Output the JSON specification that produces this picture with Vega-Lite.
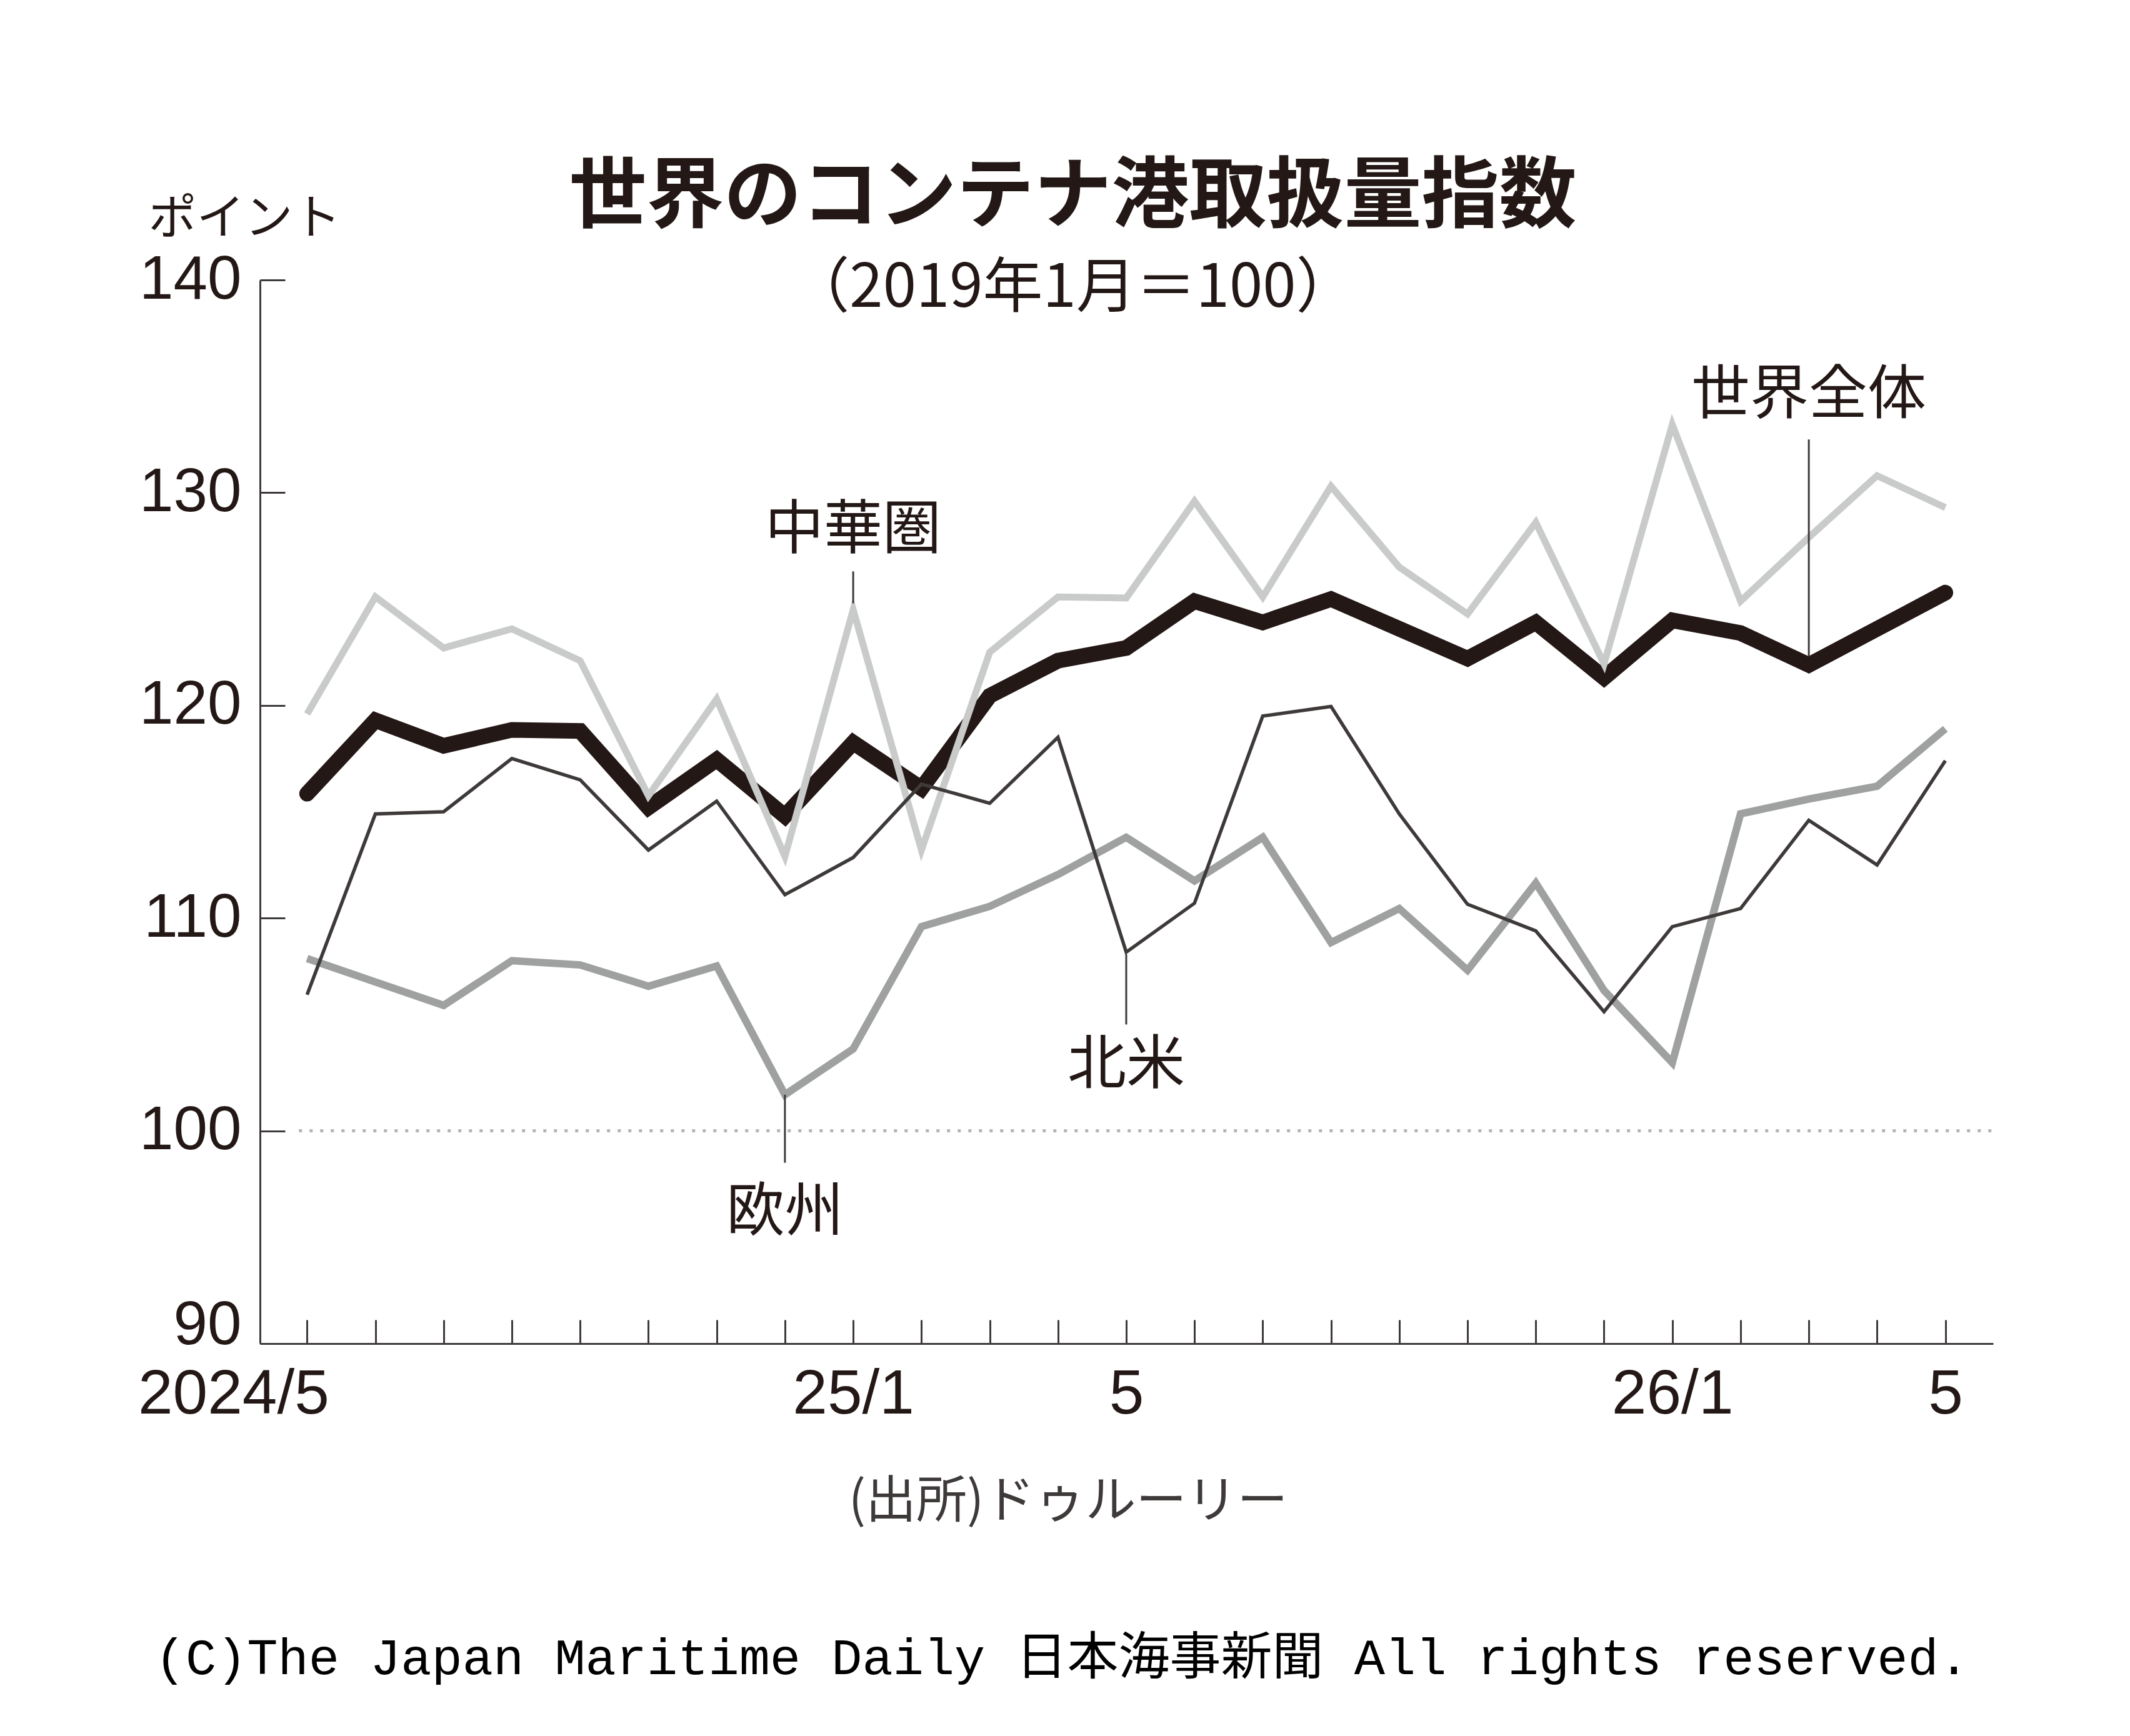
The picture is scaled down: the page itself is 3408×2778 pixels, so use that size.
{
  "$schema": "https://vega.github.io/schema/vega-lite/v6.json",
  "width": 2773,
  "height": 1702,
  "autosize": {"type": "none"},
  "padding": {"left": 416, "top": 448, "right": 219, "bottom": 628},
  "background": "white",
  "title": {
    "text": "世界のコンテナ港取扱量指数",
    "subtitle": "（2019年1月＝100）",
    "font": "Noto Sans CJK JP",
    "fontSize": 124,
    "fontWeight": "bold",
    "color": "#231815",
    "subtitleFont": "Noto Sans CJK JP",
    "subtitleFontSize": 96,
    "subtitleColor": "#231815",
    "subtitlePadding": 35,
    "anchor": "middle",
    "frame": "group",
    "dx": -86,
    "offset": -199
  },
  "config": {"view": {"stroke": null}, "axis": {"grid": false}},
  "datasets": {
    "series": [
      {"month": "2024-05", "idx": 0, "region": "世界全体", "value": 115.85},
      {"month": "2024-06", "idx": 1, "region": "世界全体", "value": 119.3},
      {"month": "2024-07", "idx": 2, "region": "世界全体", "value": 118.1},
      {"month": "2024-08", "idx": 3, "region": "世界全体", "value": 118.85},
      {"month": "2024-09", "idx": 4, "region": "世界全体", "value": 118.8},
      {"month": "2024-10", "idx": 5, "region": "世界全体", "value": 115.2},
      {"month": "2024-11", "idx": 6, "region": "世界全体", "value": 117.45},
      {"month": "2024-12", "idx": 7, "region": "世界全体", "value": 114.8},
      {"month": "2025-01", "idx": 8, "region": "世界全体", "value": 118.25},
      {"month": "2025-02", "idx": 9, "region": "世界全体", "value": 116.1},
      {"month": "2025-03", "idx": 10, "region": "世界全体", "value": 120.45},
      {"month": "2025-04", "idx": 11, "region": "世界全体", "value": 122.1},
      {"month": "2025-05", "idx": 12, "region": "世界全体", "value": 122.7},
      {"month": "2025-06", "idx": 13, "region": "世界全体", "value": 124.9},
      {"month": "2025-07", "idx": 14, "region": "世界全体", "value": 123.9},
      {"month": "2025-08", "idx": 15, "region": "世界全体", "value": 125.0},
      {"month": "2025-09", "idx": 16, "region": "世界全体", "value": 123.6},
      {"month": "2025-10", "idx": 17, "region": "世界全体", "value": 122.2},
      {"month": "2025-11", "idx": 18, "region": "世界全体", "value": 123.9},
      {"month": "2025-12", "idx": 19, "region": "世界全体", "value": 121.3},
      {"month": "2026-01", "idx": 20, "region": "世界全体", "value": 124.0},
      {"month": "2026-02", "idx": 21, "region": "世界全体", "value": 123.4},
      {"month": "2026-03", "idx": 22, "region": "世界全体", "value": 121.9},
      {"month": "2026-04", "idx": 23, "region": "世界全体", "value": 123.6},
      {"month": "2026-05", "idx": 24, "region": "世界全体", "value": 125.3},
      {"month": "2024-05", "idx": 0, "region": "中華圏", "value": 119.6},
      {"month": "2024-06", "idx": 1, "region": "中華圏", "value": 125.1},
      {"month": "2024-07", "idx": 2, "region": "中華圏", "value": 122.7},
      {"month": "2024-08", "idx": 3, "region": "中華圏", "value": 123.6},
      {"month": "2024-09", "idx": 4, "region": "中華圏", "value": 122.1},
      {"month": "2024-10", "idx": 5, "region": "中華圏", "value": 115.75},
      {"month": "2024-11", "idx": 6, "region": "中華圏", "value": 120.3},
      {"month": "2024-12", "idx": 7, "region": "中華圏", "value": 112.9},
      {"month": "2025-01", "idx": 8, "region": "中華圏", "value": 124.5},
      {"month": "2025-02", "idx": 9, "region": "中華圏", "value": 113.2},
      {"month": "2025-03", "idx": 10, "region": "中華圏", "value": 122.5},
      {"month": "2025-04", "idx": 11, "region": "中華圏", "value": 125.1},
      {"month": "2025-05", "idx": 12, "region": "中華圏", "value": 125.05},
      {"month": "2025-06", "idx": 13, "region": "中華圏", "value": 129.6},
      {"month": "2025-07", "idx": 14, "region": "中華圏", "value": 125.1},
      {"month": "2025-08", "idx": 15, "region": "中華圏", "value": 130.3},
      {"month": "2025-09", "idx": 16, "region": "中華圏", "value": 126.5},
      {"month": "2025-10", "idx": 17, "region": "中華圏", "value": 124.3},
      {"month": "2025-11", "idx": 18, "region": "中華圏", "value": 128.6},
      {"month": "2025-12", "idx": 19, "region": "中華圏", "value": 121.95},
      {"month": "2026-01", "idx": 20, "region": "中華圏", "value": 133.2},
      {"month": "2026-02", "idx": 21, "region": "中華圏", "value": 124.9},
      {"month": "2026-03", "idx": 22, "region": "中華圏", "value": 127.9},
      {"month": "2026-04", "idx": 23, "region": "中華圏", "value": 130.8},
      {"month": "2026-05", "idx": 24, "region": "中華圏", "value": 129.3},
      {"month": "2024-05", "idx": 0, "region": "欧州", "value": 108.1},
      {"month": "2024-06", "idx": 1, "region": "欧州", "value": 107.0},
      {"month": "2024-07", "idx": 2, "region": "欧州", "value": 105.9},
      {"month": "2024-08", "idx": 3, "region": "欧州", "value": 108.0},
      {"month": "2024-09", "idx": 4, "region": "欧州", "value": 107.8},
      {"month": "2024-10", "idx": 5, "region": "欧州", "value": 106.8},
      {"month": "2024-11", "idx": 6, "region": "欧州", "value": 107.75},
      {"month": "2024-12", "idx": 7, "region": "欧州", "value": 101.7},
      {"month": "2025-01", "idx": 8, "region": "欧州", "value": 103.85},
      {"month": "2025-02", "idx": 9, "region": "欧州", "value": 109.6},
      {"month": "2025-03", "idx": 10, "region": "欧州", "value": 110.55},
      {"month": "2025-04", "idx": 11, "region": "欧州", "value": 112.05},
      {"month": "2025-05", "idx": 12, "region": "欧州", "value": 113.8},
      {"month": "2025-06", "idx": 13, "region": "欧州", "value": 111.75},
      {"month": "2025-07", "idx": 14, "region": "欧州", "value": 113.8},
      {"month": "2025-08", "idx": 15, "region": "欧州", "value": 108.85},
      {"month": "2025-09", "idx": 16, "region": "欧州", "value": 110.45},
      {"month": "2025-10", "idx": 17, "region": "欧州", "value": 107.55},
      {"month": "2025-11", "idx": 18, "region": "欧州", "value": 111.65},
      {"month": "2025-12", "idx": 19, "region": "欧州", "value": 106.6},
      {"month": "2026-01", "idx": 20, "region": "欧州", "value": 103.2},
      {"month": "2026-02", "idx": 21, "region": "欧州", "value": 114.9},
      {"month": "2026-03", "idx": 22, "region": "欧州", "value": 115.6},
      {"month": "2026-04", "idx": 23, "region": "欧州", "value": 116.2},
      {"month": "2026-05", "idx": 24, "region": "欧州", "value": 118.9},
      {"month": "2024-05", "idx": 0, "region": "北米", "value": 106.4},
      {"month": "2024-06", "idx": 1, "region": "北米", "value": 114.9},
      {"month": "2024-07", "idx": 2, "region": "北米", "value": 115.0},
      {"month": "2024-08", "idx": 3, "region": "北米", "value": 117.5},
      {"month": "2024-09", "idx": 4, "region": "北米", "value": 116.5},
      {"month": "2024-10", "idx": 5, "region": "北米", "value": 113.2},
      {"month": "2024-11", "idx": 6, "region": "北米", "value": 115.5},
      {"month": "2024-12", "idx": 7, "region": "北米", "value": 111.1},
      {"month": "2025-01", "idx": 8, "region": "北米", "value": 112.85},
      {"month": "2025-02", "idx": 9, "region": "北米", "value": 116.3},
      {"month": "2025-03", "idx": 10, "region": "北米", "value": 115.4},
      {"month": "2025-04", "idx": 11, "region": "北米", "value": 118.5},
      {"month": "2025-05", "idx": 12, "region": "北米", "value": 108.4},
      {"month": "2025-06", "idx": 13, "region": "北米", "value": 110.7},
      {"month": "2025-07", "idx": 14, "region": "北米", "value": 119.5},
      {"month": "2025-08", "idx": 15, "region": "北米", "value": 119.95},
      {"month": "2025-09", "idx": 16, "region": "北米", "value": 114.9},
      {"month": "2025-10", "idx": 17, "region": "北米", "value": 110.65},
      {"month": "2025-11", "idx": 18, "region": "北米", "value": 109.4},
      {"month": "2025-12", "idx": 19, "region": "北米", "value": 105.6},
      {"month": "2026-01", "idx": 20, "region": "北米", "value": 109.6},
      {"month": "2026-02", "idx": 21, "region": "北米", "value": 110.45},
      {"month": "2026-03", "idx": 22, "region": "北米", "value": 114.6},
      {"month": "2026-04", "idx": 23, "region": "北米", "value": 112.5},
      {"month": "2026-05", "idx": 24, "region": "北米", "value": 117.4}
    ],
    "notes": [
      {"label": "中華圏", "idx": 8, "lineFrom": 124.8, "lineTo": 126.3, "labelAt": 128.2},
      {"label": "北米", "idx": 12, "lineFrom": 105.0, "lineTo": 108.3, "labelAt": 103.05},
      {"label": "欧州", "idx": 7, "lineFrom": 98.5, "lineTo": 101.7, "labelAt": 96.1},
      {"label": "世界全体", "idx": 22, "lineFrom": 122.3, "lineTo": 132.5, "labelAt": 134.55}
    ],
    "credits": [
      {"text": "(出所)ドゥルーリー", "kind": "source", "idx": 11.15, "at": 82.55},
      {"text": "(C)The Japan Maritime Daily 日本海事新聞 All rights reserved.", "kind": "copyright", "idx": 11.06, "at": 75.2}
    ]
  },
  "layer": [
    {
      "data": {"values": [{"level": 100}]},
      "mark": {"type": "rule", "color": "#b5b5b6", "strokeWidth": 5, "strokeDash": [5, 12]},
      "encoding": {
        "y": {"field": "level", "type": "quantitative", "scale": {"domain": [90, 140], "nice": false, "zero": false},
          "axis": {
            "values": [90, 100, 110, 120, 130, 140],
            "tickSize": -40, "tickWidth": 3, "tickColor": "#3e3a39",
            "domainColor": "#3e3a39", "domainWidth": 3,
            "labelFont": "Liberation Sans", "labelFontSize": 98, "labelColor": "#231815",
            "labelPadding": 70, "labelLimit": 0,
            "labelBaseline": {"condition": {"test": "datum.value == 90", "value": "alphabetic"}, "value": "middle"},
            "title": "ポイント", "titleAngle": 0, "titleX": -179, "titleY": -97,
            "titleAlign": "left", "titleBaseline": "middle",
            "titleFont": "Noto Sans CJK JP", "titleFontSize": 77, "titleFontWeight": "normal", "titleColor": "#231815"
          }
        },
        "x": {"datum": -0.12, "type": "quantitative", "scale": {"domain": [-0.69, 24.7], "nice": false, "zero": false},
          "axis": {
            "title": null,
            "values": [0, 1, 2, 3, 4, 5, 6, 7, 8, 9, 10, 11, 12, 13, 14, 15, 16, 17, 18, 19, 20, 21, 22, 23, 24],
            "labelExpr": "datum.value == 0 ? '2024/5' : datum.value == 8 ? '25/1' : datum.value == 12 ? '5' : datum.value == 20 ? '26/1' : datum.value == 24 ? '5' : ''",
            "tickSize": -38, "tickWidth": 3, "tickColor": "#3e3a39",
            "domainColor": "#3e3a39", "domainWidth": 3,
            "labelFont": "Liberation Sans", "labelFontSize": 100, "labelColor": "#231815",
            "labelPadding": 70, "labelFlush": false, "labelOverlap": false, "labelBaseline": "top", "labelLimit": 0,
            "labelAlign": {"condition": {"test": "datum.value == 0", "value": "right"}, "value": "center"},
            "labelOffset": {"condition": {"test": "datum.value == 0", "value": 35}, "value": 0}
          }
        },
        "x2": {"datum": 24.69}
      }
    },
    {
      "data": {"name": "series"},
      "transform": [{"filter": "datum.region == '世界全体'"}],
      "mark": {"type": "line", "color": "#231815", "strokeWidth": 25, "strokeCap": "round", "strokeJoin": "miter"},
      "encoding": {
        "x": {"field": "idx", "type": "quantitative", "title": null},
        "y": {"field": "value", "type": "quantitative"}
      }
    },
    {
      "data": {"name": "series"},
      "transform": [{"filter": "datum.region == '中華圏'"}],
      "mark": {"type": "line", "color": "#c9caca", "strokeWidth": 11, "strokeJoin": "miter"},
      "encoding": {
        "x": {"field": "idx", "type": "quantitative", "title": null},
        "y": {"field": "value", "type": "quantitative"}
      }
    },
    {
      "data": {"name": "series"},
      "transform": [{"filter": "datum.region == '欧州'"}],
      "mark": {"type": "line", "color": "#9fa0a0", "strokeWidth": 12, "strokeJoin": "miter"},
      "encoding": {
        "x": {"field": "idx", "type": "quantitative", "title": null},
        "y": {"field": "value", "type": "quantitative"}
      }
    },
    {
      "data": {"name": "series"},
      "transform": [{"filter": "datum.region == '北米'"}],
      "mark": {"type": "line", "color": "#3e3a39", "strokeWidth": 5.5, "strokeJoin": "miter"},
      "encoding": {
        "x": {"field": "idx", "type": "quantitative", "title": null},
        "y": {"field": "value", "type": "quantitative"}
      }
    },
    {
      "data": {"name": "notes"},
      "mark": {"type": "rule", "color": "#3e3a39", "strokeWidth": 3},
      "encoding": {
        "x": {"field": "idx", "type": "quantitative", "title": null},
        "y": {"field": "lineFrom", "type": "quantitative"},
        "y2": {"field": "lineTo"}
      }
    },
    {
      "data": {"name": "notes"},
      "mark": {"type": "text", "font": "Noto Sans CJK JP", "fontSize": 94, "color": "#231815", "align": "center", "baseline": "middle"},
      "encoding": {
        "x": {"field": "idx", "type": "quantitative", "title": null},
        "y": {"field": "labelAt", "type": "quantitative"},
        "text": {"field": "label"}
      }
    },
    {
      "data": {"name": "credits"},
      "transform": [{"filter": "datum.kind == 'source'"}],
      "mark": {"type": "text", "font": "Noto Sans CJK JP", "fontSize": 81, "color": "#3e3a39", "align": "center", "baseline": "middle"},
      "encoding": {
        "x": {"field": "idx", "type": "quantitative", "title": null},
        "y": {"field": "at", "type": "quantitative"},
        "text": {"field": "text"}
      }
    },
    {
      "data": {"name": "credits"},
      "transform": [{"filter": "datum.kind == 'copyright'"}],
      "mark": {"type": "text", "font": "Liberation Mono, Noto Sans CJK JP", "fontSize": 82, "color": "#000000", "align": "center", "baseline": "middle"},
      "encoding": {
        "x": {"field": "idx", "type": "quantitative", "title": null},
        "y": {"field": "at", "type": "quantitative"},
        "text": {"field": "text"}
      }
    }
  ]
}
